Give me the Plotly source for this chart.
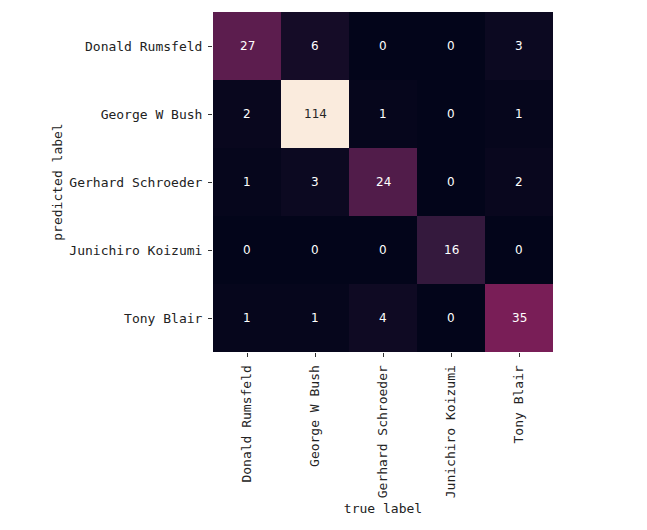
import plotly.graph_objects as go

names = ["Donald Rumsfeld", "George W Bush", "Gerhard Schroeder",
         "Junichiro Koizumi", "Tony Blair"]
# rows = predicted label, columns = true label
matrix = [
    [27, 6, 0, 0, 3],
    [2, 114, 1, 0, 1],
    [1, 3, 24, 0, 2],
    [0, 0, 0, 16, 0],
    [1, 1, 4, 0, 35],
]

rocket = [
    [0.0, "#03051A"],
    [1/7, "#35193E"],
    [2/7, "#701F57"],
    [3/7, "#AD1759"],
    [4/7, "#E13342"],
    [5/7, "#F37651"],
    [6/7, "#F6B48F"],
    [1.0, "#FAEBDD"],
]

zmax = max(max(r) for r in matrix)
fig = go.Figure(go.Heatmap(
    z=matrix, x=names, y=names, colorscale=rocket,
    zmin=0, zmax=zmax, showscale=False, hoverinfo="skip",
))

annotations = []
for i, rn in enumerate(names):
    for j, cn in enumerate(names):
        v = matrix[i][j]
        annotations.append(dict(
            x=cn, y=rn, text=str(v), showarrow=False,
            font=dict(family="DejaVu Sans", size=12,
                      color="#262626" if v / zmax > 0.7 else "white"),
        ))

tickfont = dict(family="DejaVu Sans Mono", size=13, color="#222222")
fig.update_layout(
    width=647, height=530,
    margin=dict(l=213, r=94, t=12, b=178),
    paper_bgcolor="white", plot_bgcolor="white",
    annotations=annotations,
    xaxis=dict(
        tickangle=-90, tickfont=tickfont, ticks="outside", ticklen=4,
        tickcolor="#333333", showgrid=False, zeroline=False, showline=False,
        ticklabelstandoff=3,
        title=dict(text="true label", font=tickfont, standoff=6),
        automargin=False,
    ),
    yaxis=dict(
        autorange="reversed", tickfont=tickfont, ticks="outside", ticklen=4,
        tickcolor="#333333", showgrid=False, zeroline=False, showline=False,
        ticklabelstandoff=3,
        title=dict(text="predicted label", font=tickfont, standoff=3),
        automargin=False,
    ),
)

fig.write_html("out.html")
